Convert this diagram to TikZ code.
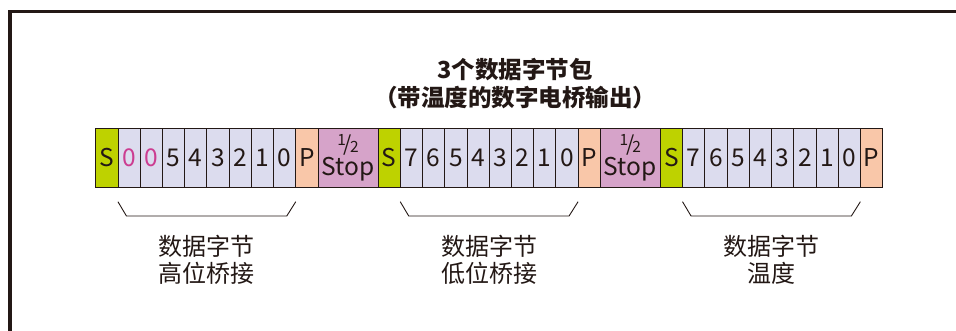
\documentclass[tikz,border=0pt]{standalone}
\usepackage{fontspec}
\setmainfont{Noto Sans CJK SC}
\usetikzlibrary{calc}
\definecolor{ink}{HTML}{231815}
\definecolor{sgreen}{HTML}{BED200}
\definecolor{dlav}{HTML}{DCDCEE}
\definecolor{ppeach}{HTML}{F9C7A9}
\definecolor{stopc}{HTML}{D6A3C9}
\definecolor{pinkc}{HTML}{CC3D91}
\tikzset{
  cellbase/.style={draw=ink, line width=0.8pt, minimum height=59pt, inner sep=0pt, outer sep=0pt,
    anchor=west, text=ink, font=\fontsize{24.5}{26}\selectfont},
  sbit/.style={cellbase, fill=sgreen, minimum width=22.23pt},
  dbit/.style={cellbase, fill=dlav, minimum width=22.23pt},
  pbit/.style={cellbase, fill=ppeach, minimum width=22.23pt},
  stopbox/.style={cellbase, fill=stopc, minimum width=60pt, align=center},
  brace/.style={draw=ink, line width=0.9pt},
  lbl/.style={align=center, text=ink, font=\fontsize{24}{27.5}\selectfont},
  ttl/.style={align=center, text=ink, font=\bfseries\fontsize{23.5}{27.5}\selectfont},
  frameline/.style={draw=ink, line width=3.5pt}
}
\newcommand{\myhalf}{\raisebox{7pt}{\fontsize{15.5}{15.5}\selectfont 1}\kern-2pt\raisebox{1pt}{\fontsize{21}{21}\selectfont /}\kern-2pt\raisebox{0pt}{\fontsize{15.5}{15.5}\selectfont 2}}
\newcommand{\halfstop}{\myhalf\\[-3pt]Stop}
\begin{document}
\begin{tikzpicture}[x=1pt,y=-1pt]
\useasboundingbox (0,0) rectangle (956,331);
\draw[frameline] (10,340) -- (10,11.5) -- (965,11.5);

\node[ttl] (title) at (515,83.5) {3个数据字节包\\（带温度的数字电桥输出）};

% frame 1
\node[sbit] (f1s) at (95.7,157.5) {S};
\node[dbit,text=pinkc] (f1b1) at (f1s.east) {0};
\node[dbit,text=pinkc] (f1b2) at (f1b1.east) {0};
\node[dbit] (f1b3) at (f1b2.east) {5};
\node[dbit] (f1b4) at (f1b3.east) {4};
\node[dbit] (f1b5) at (f1b4.east) {3};
\node[dbit] (f1b6) at (f1b5.east) {2};
\node[dbit] (f1b7) at (f1b6.east) {1};
\node[dbit] (f1b8) at (f1b7.east) {0};
\node[pbit] (f1p) at (f1b8.east) {P};
\node[stopbox] (st1) at (f1p.east) {\halfstop};
% frame 2
\node[sbit] (f2s) at (st1.east) {S};
\node[dbit] (f2b1) at (f2s.east) {7};
\node[dbit] (f2b2) at (f2b1.east) {6};
\node[dbit] (f2b3) at (f2b2.east) {5};
\node[dbit] (f2b4) at (f2b3.east) {4};
\node[dbit] (f2b5) at (f2b4.east) {3};
\node[dbit] (f2b6) at (f2b5.east) {2};
\node[dbit] (f2b7) at (f2b6.east) {1};
\node[dbit] (f2b8) at (f2b7.east) {0};
\node[pbit] (f2p) at (f2b8.east) {P};
\node[stopbox] (st2) at (f2p.east) {\halfstop};
% frame 3
\node[sbit] (f3s) at (st2.east) {S};
\node[dbit] (f3b1) at (f3s.east) {7};
\node[dbit] (f3b2) at (f3b1.east) {6};
\node[dbit] (f3b3) at (f3b2.east) {5};
\node[dbit] (f3b4) at (f3b3.east) {4};
\node[dbit] (f3b5) at (f3b4.east) {3};
\node[dbit] (f3b6) at (f3b5.east) {2};
\node[dbit] (f3b7) at (f3b6.east) {1};
\node[dbit] (f3b8) at (f3b7.east) {0};
\node[pbit] (f3p) at (f3b8.east) {P};

% brackets and labels
\foreach \f/\txt in {1/高位桥接, 2/低位桥接, 3/温度}{
  \draw[brace] ($(f\f b1.south west)+(0,14.7)$) -- ($(f\f b1.south west)+(8.5,29)$)
     -- ($(f\f b8.south east)+(-9,29)$) -- ($(f\f b8.south east)+(0,14.7)$);
  \node[lbl] (lab\f) at ($(f\f b1.south west)!0.5!(f\f b8.south east)+(0,73)$) {数据字节\\\txt};
}
\end{tikzpicture}
\end{document}
